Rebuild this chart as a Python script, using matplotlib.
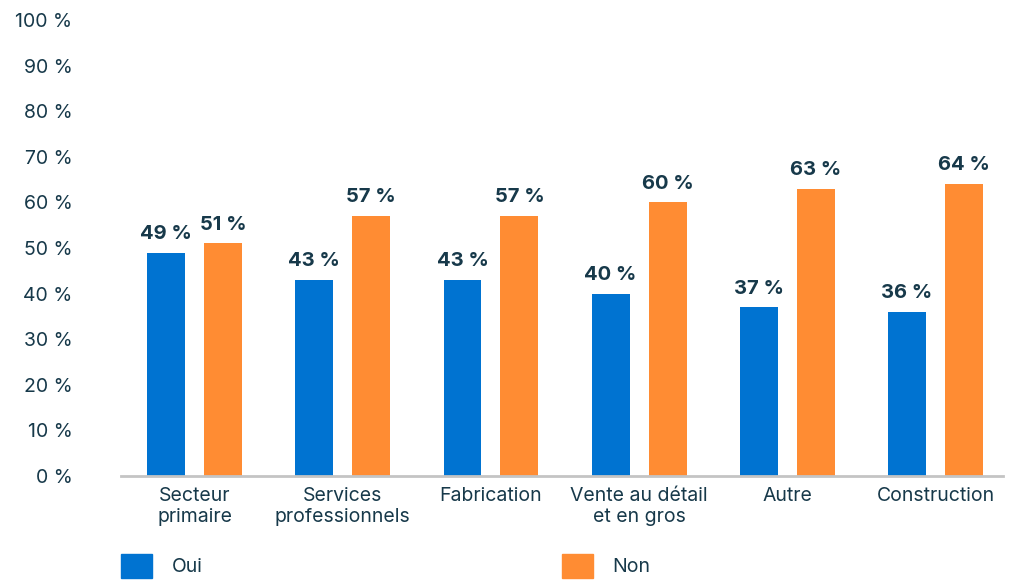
import matplotlib
matplotlib.use('Agg')
import matplotlib.pyplot as plt
from matplotlib.patches import Patch
import numpy as np

categories = ['Secteur\nprimaire', 'Services\nprofessionnels', 'Fabrication',
              'Vente au détail\net en gros', 'Autre', 'Construction']
oui = [49, 43, 43, 40, 37, 36]
non = [51, 57, 57, 60, 63, 64]
yticks = [0, 10, 20, 30, 40, 50, 60, 70, 80, 90, 100]

blue = '#0073d1'
orange = '#ff8c33'
textcol = '#17394a'

plt.rcParams['font.family'] = ['Inter', 'DejaVu Sans']

fig = plt.figure(figsize=(10.11, 5.8), dpi=100)
ax = fig.add_axes([121/1011, 1 - 476/580, 882/1011, 456/580])

x = np.arange(len(categories))
w = 0.256
off = 0.192
b1 = ax.bar(x - off, oui, w, color=blue)
b2 = ax.bar(x + off, non, w, color=orange)

# value labels above each bar
for bars, vals in ((b1, oui), (b2, non)):
    for rect, v in zip(bars, vals):
        ax.annotate(f'{v} %', (rect.get_x() + rect.get_width() / 2, v),
                    xytext=(0, 7), textcoords='offset points',
                    ha='center', va='bottom', fontsize=14.5,
                    fontweight='bold', color=textcol)

ax.set_xlim(-0.496, len(categories) - 0.545)
ax.set_ylim(0, 100)
ax.set_yticks(yticks)
ax.set_yticklabels([f'{t} %' for t in yticks])
ax.set_xticks(x)
ax.set_xticklabels(categories)

for s in ['top', 'right', 'left']:
    ax.spines[s].set_visible(False)
ax.spines['bottom'].set_color('#c4c4c4')
ax.spines['bottom'].set_linewidth(2)

ax.tick_params(axis='y', length=0, pad=35, labelsize=14, labelcolor=textcol)
ax.tick_params(axis='x', length=0, pad=8, labelsize=14, labelcolor=textcol)

# legend entries sit far apart, one legend each
for h, xpos in ((Patch(color=blue, label='Oui'), 121),
                (Patch(color=orange, label='Non'), 562)):
    fig.legend(handles=[h], loc='center left',
               bbox_to_anchor=(xpos/1011, 1 - 566/580),
               frameon=False, fontsize=14, labelcolor=textcol,
               handlelength=1.6, handleheight=1.6, handletextpad=1.0,
               borderpad=0, borderaxespad=0)

fig.savefig('out.png', dpi=100)
